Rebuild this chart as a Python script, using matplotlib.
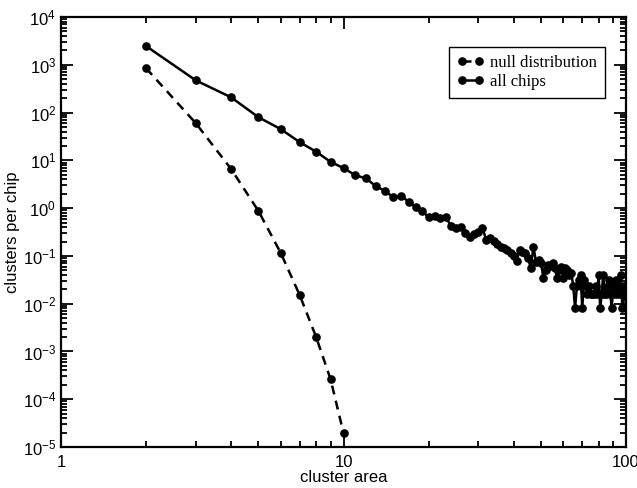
import numpy as np
import matplotlib
matplotlib.use('Agg')
import matplotlib.pyplot as plt
from matplotlib.ticker import LogLocator, FixedLocator, FixedFormatter, NullFormatter

# cluster area (x) and clusters per chip (y)
null_area = [2, 3, 4, 5, 6, 7, 8, 9, 10]
null_counts = [850, 60, 6.6, 0.87, 0.114, 0.015, 0.002, 2.6e-4, 1.95e-5]

chips_area = list(range(2, 101))
chips_counts = [
    2470, 473, 209, 80, 45, 24, 15.2, 9.3, 6.9,             # 2-10
    4.9, 4.2, 2.9, 2.3, 1.7, 1.8, 1.37, 1.05, 0.87, 0.645,   # 11-20
    0.70, 0.615, 0.645, 0.43, 0.38, 0.41, 0.30, 0.254, 0.284, 0.318,  # 21-30
    0.39, 0.216, 0.234, 0.209, 0.178, 0.157, 0.145, 0.134, 0.114, 0.10,  # 31-40
    0.0786, 0.134, 0.12, 0.114, 0.0896, 0.056, 0.157, 0.075, 0.082, 0.072,  # 41-50
    0.034, 0.051, 0.065, 0.062, 0.070, 0.055, 0.034, 0.051, 0.060, 0.034,  # 51-60
    0.056, 0.051, 0.040, 0.043, 0.024, 0.008, 0.024, 0.032, 0.040, 0.008,  # 61-70
    0.032, 0.024, 0.016, 0.024, 0.016, 0.016, 0.016, 0.024, 0.016, 0.040,  # 71-80
    0.008, 0.016, 0.040, 0.016, 0.016, 0.024, 0.032, 0.016, 0.008, 0.024,  # 81-90
    0.016, 0.032, 0.016, 0.024, 0.016, 0.040, 0.008, 0.024, 0.016, 0.008,  # 91-100
]

x_ticks = [1, 10, 100]
x_tick_labels = ['1', '10', '100']

plt.rcParams['font.family'] = ['Liberation Sans', 'DejaVu Sans']
plt.rcParams['mathtext.fontset'] = 'custom'
plt.rcParams['mathtext.rm'] = 'Liberation Sans'
plt.rcParams['mathtext.it'] = 'Liberation Sans'

fig = plt.figure(figsize=(6.37, 4.88), dpi=100)
ax = fig.add_axes([0.0958, 0.084, 0.887, 0.881])

ax.plot(null_area, null_counts, color='black', linestyle=(0, (3.6, 2.6)), lw=1.8,
        marker='o', markersize=5.2, label='null distribution')
ax.plot(chips_area, chips_counts, color='black', linestyle='-', lw=1.8,
        marker='o', markersize=5.2, label='all chips')

ax.set_xscale('log')
ax.set_yscale('log')
ax.set_xlim(1, 100)
ax.set_ylim(1e-5, 1e4)

ax.xaxis.set_major_locator(FixedLocator(x_ticks))
ax.xaxis.set_major_formatter(FixedFormatter(x_tick_labels))
ax.xaxis.set_minor_locator(LogLocator(base=10, subs=np.arange(2, 10), numticks=100))
ax.xaxis.set_minor_formatter(NullFormatter())
ax.yaxis.set_major_locator(LogLocator(base=10, numticks=100))
ax.yaxis.set_minor_locator(LogLocator(base=10, subs=np.arange(2, 10), numticks=100))
ax.yaxis.set_minor_formatter(NullFormatter())

ax.tick_params(which='both', direction='in', top=True, right=True, width=1.3,
               labelsize=12, colors='black')
ax.tick_params(which='major', length=8.5)
ax.tick_params(which='minor', length=4.5)
ax.tick_params(axis='x', pad=6)
for s in ax.spines.values():
    s.set_linewidth(1.6)

ax.set_xlabel('cluster area', fontsize=12, labelpad=0)
ax.set_ylabel('clusters per chip', fontsize=12, labelpad=2)

leg = ax.legend(loc='upper right', bbox_to_anchor=(0.962, 0.93), numpoints=2,
                fancybox=False, edgecolor='black', framealpha=1,
                prop={'family': 'Liberation Serif', 'size': 12},
                handlelength=1.6, handletextpad=0.4, borderpad=0.45,
                labelspacing=0.2, borderaxespad=0)
leg.get_frame().set_linewidth(1.0)

fig.savefig('out.png', dpi=100)
